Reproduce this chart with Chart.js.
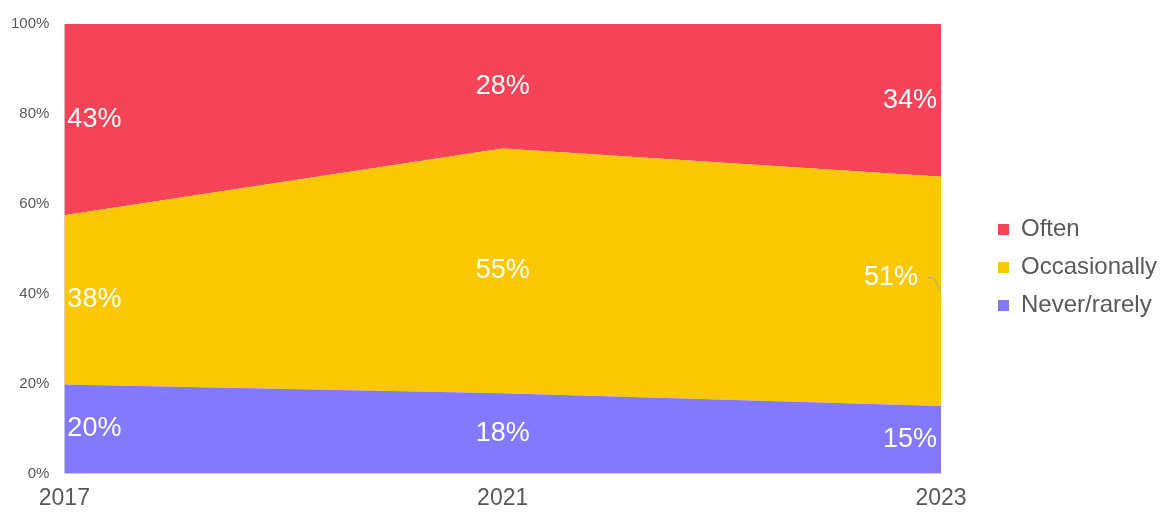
<!DOCTYPE html>
<html lang="en">
<head>
  <meta charset="UTF-8">
  <title>Frequency 2017-2023</title>
  <script src="https://cdn.jsdelivr.net/npm/chart.js"></script>
  <style>
    html, body { margin: 0; padding: 0; background: #fff; }
    #wrap { width: 1161px; height: 512px; }
  </style>
</head>
<body>
  <div id="wrap"><canvas id="areaChart" width="1161" height="512"></canvas></div>

  <script>
    // Data (percent labels)
    const years = ['2017', '2021', '2023'];
    const neverRarely = [20, 18, 15];
    const occasionally = [38, 55, 51];
    const often = [43, 28, 34];
    const yTicks = [0, 20, 40, 60, 80, 100];

    const FONT = "'Liberation Sans', Arial, sans-serif";

    // labels round to 100-101, so scale each year to a 100% stack
    const totals = years.map((y, i) => neverRarely[i] + occasionally[i] + often[i]);
    const toShare = arr => arr.map((v, i) => v / totals[i] * 100);

    const series = [
      { label: 'Never/rarely', values: neverRarely, color: '#8379FF' },
      { label: 'Occasionally', values: occasionally, color: '#FAC800' },
      { label: 'Often', values: often, color: '#F54457' }
    ];

    // white percent labels in the middle of each band
    const bandLabels = {
      id: 'bandLabels',
      afterDatasetsDraw(chart) {
        const ctx = chart.ctx;
        const yScale = chart.scales.y;
        ctx.save();
        ctx.font = '27px ' + FONT;
        ctx.fillStyle = '#ffffff';
        ctx.textBaseline = 'middle';
        chart.data.datasets.forEach((ds, i) => {
          const meta = chart.getDatasetMeta(i);
          meta.data.forEach((pt, j) => {
            const below = i === 0 ? yScale.bottom : chart.getDatasetMeta(i - 1).data[j].y;
            const mid = (pt.y + below) / 2;
            let x = pt.x, y = mid;
            const last = j === meta.data.length - 1;
            if (j === 0) { ctx.textAlign = 'left'; x += 3; }
            else if (last) { ctx.textAlign = 'right'; x -= 4; }
            else { ctx.textAlign = 'center'; }
            const text = series[i].values[j] + '%';
            // the 2023 "Occasionally" label was pulled off its point in the original
            if (last && i === 1) {
              x -= 19; y -= 14;
              ctx.save();
              ctx.strokeStyle = '#A6A6A6';
              ctx.lineWidth = 1;
              ctx.beginPath();
              ctx.moveTo(x + 9, y);
              ctx.lineTo(x + 16, y + 1);
              ctx.lineTo(pt.x, mid);
              ctx.stroke();
              ctx.restore();
            }
            ctx.fillText(text, x, y);
          });
        });
        ctx.restore();
      }
    };

    // push the legend out to the right edge, away from the plot
    const legendShift = {
      id: 'legendShift',
      afterLayout(chart) {
        const lg = chart.legend;
        if (lg) {
          lg.left += 43; lg.right += 43;
          lg.top -= 6; lg.bottom -= 6;
        }
      }
    };

    const ctx = document.getElementById('areaChart').getContext('2d');
    new Chart(ctx, {
      type: 'line',
      data: {
        labels: years,
        datasets: series.map((s, i) => ({
          label: s.label,
          data: toShare(s.values),
          backgroundColor: s.color,
          borderColor: s.color,
          borderWidth: 0,
          pointRadius: 0,
          tension: 0,
          fill: i === 0 ? 'origin' : '-1'
        }))
      },
      options: {
        responsive: false,
        animation: false,
        layout: { padding: { top: 24, right: 0, bottom: -11, left: 4 } },
        scales: {
          x: {
            offset: false,
            grid: { display: false, drawTicks: false },
            border: { color: '#D9D9D9', width: 1 },
            ticks: { color: '#595959', font: { family: FONT, size: 23 }, padding: 11, maxRotation: 0 },
            afterFit(axis) { axis.paddingRight = 220; }
          },
          y: {
            stacked: true,
            min: 0,
            max: 100,
            afterBuildTicks(axis) { axis.ticks = yTicks.map(v => ({ value: v })); },
            grid: { display: false },
            border: { color: '#D9D9D9', width: 1 },
            ticks: { color: '#595959', font: { family: FONT, size: 15 }, padding: 7, callback: v => v + '%' }
          }
        },
        plugins: {
          legend: {
            position: 'right',
            reverse: true,
            labels: {
              color: '#595959',
              font: { family: FONT, size: 24 },
              boxWidth: 11,
              boxHeight: 11,
              padding: 14
            }
          },
          tooltip: { enabled: false }
        }
      },
      plugins: [bandLabels, legendShift]
    });
  </script>
</body>
</html>
